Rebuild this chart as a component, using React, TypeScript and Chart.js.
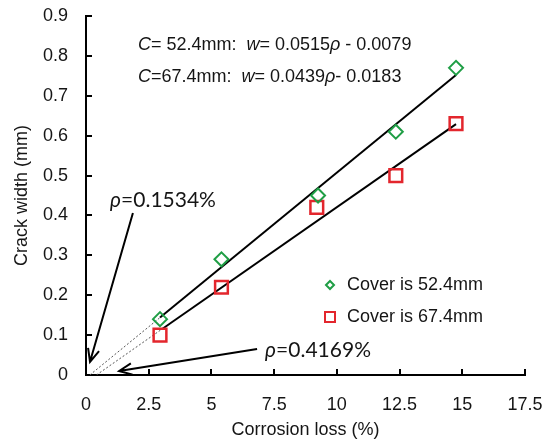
import React, { useEffect, useRef } from 'react';
import { Chart, registerables } from 'chart.js';
Chart.register(...registerables);

// Measured data (corrosion loss %, crack width mm)
const lossA = [2.95, 5.4, 9.25, 12.35, 14.75];
const widthA = [0.14, 0.29, 0.45, 0.61, 0.77];
const lossB = [2.95, 5.4, 9.2, 12.35, 14.75];
const widthB = [0.1, 0.22, 0.42, 0.5, 0.63];

// Fitted lines (solid) and extrapolations to zero (dotted)
const fitAX = [2.95, 14.75];
const fitAY = [0.144, 0.752];
const fitBX = [3.05, 14.75];
const fitBY = [0.116, 0.629];
const extAX = [0.1534, 2.95];
const extAY = [0, 0.144];
const extBX = [0.4169, 3.05];
const extBY = [0, 0.116];

const seriesLabels = ['Cover is 52.4mm', 'Cover is 67.4mm'];
const xTickLabels = ['0', '2.5', '5', '7.5', '10', '12.5', '15', '17.5'];
const yTickLabels = ['0', '0.1', '0.2', '0.3', '0.4', '0.5', '0.6', '0.7', '0.8', '0.9'];

const GREEN = '#1f9e45';
const RED = '#e3262d';
const FONT = '"Liberation Sans", Arial, sans-serif';
const NOTE_FONT = 'Lato, "Open Sans", sans-serif';
const TEXT = '#151515';

const pts = (xs: number[], ys: number[]) => xs.map((x, i) => ({ x, y: ys[i] }));

const decor = {
  id: 'decor',
  afterDraw(chart: any) {
    const ctx = chart.ctx;
    const xs = chart.scales.x;
    const ys = chart.scales.y;
    const px = (v: number) => xs.getPixelForValue(v);
    const py = (v: number) => ys.getPixelForValue(v);
    const area = chart.chartArea;
    ctx.save();
    // inward ticks
    ctx.strokeStyle = '#000';
    ctx.lineWidth = 2;
    ctx.beginPath();
    xs.ticks.forEach((t: any) => {
      if (t.value === 0) return;
      const x = Math.round(px(t.value));
      ctx.moveTo(x, area.bottom);
      ctx.lineTo(x, area.bottom - 6);
    });
    ys.ticks.forEach((t: any) => {
      if (t.value === 0) return;
      const y = Math.round(py(t.value));
      ctx.moveTo(area.left, y);
      ctx.lineTo(area.left + 6, y);
    });
    ctx.stroke();

    // arrows
    const arrow = (x0: number, y0: number, x1: number, y1: number) => {
      const ax = px(x0), ay = py(y0), bx = px(x1), by = py(y1);
      const ang = Math.atan2(by - ay, bx - ax);
      const L = 14, spread = 0.42;
      ctx.lineWidth = 2;
      ctx.beginPath();
      ctx.moveTo(ax, ay);
      ctx.lineTo(bx, by);
      ctx.moveTo(bx - L * Math.cos(ang - spread), by - L * Math.sin(ang - spread));
      ctx.lineTo(bx, by);
      ctx.lineTo(bx - L * Math.cos(ang + spread), by - L * Math.sin(ang + spread));
      ctx.stroke();
    };
    arrow(1.87, 0.406, 0.16, 0.033);
    arrow(6.82, 0.065, 1.32, 0.01);

    // rich text helper
    const rich = (x: number, y: number, parts: [string, boolean][], size: number, family: string) => {
      let cx = px(x);
      const cy = py(y);
      ctx.textBaseline = 'middle';
      ctx.textAlign = 'left';
      ctx.fillStyle = TEXT;
      parts.forEach(([s, it]) => {
        ctx.font = `${it ? 'italic ' : ''}${size}px ${family}`;
        ctx.fillText(s, cx, cy);
        cx += ctx.measureText(s).width;
      });
    };
    rich(2.07, 0.827, [['C', true], ['= 52.4mm:  ', false], ['w', true], ['= 0.0515', false], ['ρ', true], [' - 0.0079', false]], 18, FONT);
    rich(2.07, 0.747, [['C', true], ['=67.4mm:  ', false], ['w', true], ['= 0.0439', false], ['ρ', true], ['- 0.0183', false]], 18, FONT);
    rich(0.96, 0.439, [['ρ', true], ['=0.1534%', false]], 21, NOTE_FONT);
    rich(7.14, 0.063, [['ρ', true], ['=0.4169%', false]], 21, NOTE_FONT);

    // legend
    const lx = 330, ly1 = 285, ly2 = 317;
    ctx.lineWidth = 2;
    ctx.strokeStyle = GREEN;
    ctx.beginPath();
    ctx.moveTo(lx - 4, ly1);
    ctx.lineTo(lx, ly1 - 4);
    ctx.lineTo(lx + 4, ly1);
    ctx.lineTo(lx, ly1 + 4);
    ctx.closePath();
    ctx.stroke();
    ctx.strokeStyle = RED;
    ctx.strokeRect(lx - 5, ly2 - 5, 10, 10);
    ctx.fillStyle = TEXT;
    ctx.font = `18px ${FONT}`;
    ctx.textBaseline = 'middle';
    ctx.textAlign = 'left';
    ctx.fillText(chart.data.datasets[0].label, lx + 17, ly1);
    ctx.fillText(chart.data.datasets[1].label, lx + 17, ly2);
    ctx.restore();
  },
};

export default function App() {
  const ref = useRef<HTMLCanvasElement>(null);
  useEffect(() => {
    document.body.style.margin = '0';
    const chart = new Chart(ref.current!, {
      type: 'scatter',
      data: {
        datasets: [
          {
            label: seriesLabels[0],
            data: pts(lossA, widthA),
            pointStyle: 'rectRot',
            pointRadius: 7,
            pointBorderWidth: 2,
            pointBorderColor: GREEN,
            pointBackgroundColor: 'rgba(255,255,255,0)',
            borderColor: GREEN,
            order: 0,
          },
          {
            label: seriesLabels[1],
            data: pts(lossB, widthB),
            pointStyle: 'rect',
            pointRadius: 9,
            pointBorderWidth: 2.5,
            pointBorderColor: RED,
            pointBackgroundColor: 'rgba(255,255,255,0)',
            borderColor: RED,
            order: 0,
          },
          {
            label: 'fitA',
            data: pts(fitAX, fitAY),
            showLine: true,
            pointRadius: 0,
            borderColor: '#000',
            borderWidth: 2,
            order: 1,
          },
          {
            label: 'fitB',
            data: pts(fitBX, fitBY),
            showLine: true,
            pointRadius: 0,
            borderColor: '#000',
            borderWidth: 2,
            order: 1,
          },
          {
            label: 'extA',
            data: pts(extAX, extAY),
            showLine: true,
            pointRadius: 0,
            borderColor: '#555',
            borderWidth: 1,
            borderDash: [2, 2],
            order: 1,
          },
          {
            label: 'extB',
            data: pts(extBX, extBY),
            showLine: true,
            pointRadius: 0,
            borderColor: '#555',
            borderWidth: 1,
            borderDash: [2, 2],
            order: 1,
          },
        ],
      },
      options: {
        responsive: false,
        animation: false,
        layout: { padding: { top: 16, right: 19, left: 0, bottom: 0 } },
        plugins: { legend: { display: false }, tooltip: { enabled: false } },
        scales: {
          x: {
            type: 'linear',
            min: 0,
            max: 17.5,
            afterFit: (s: any) => { s.height = 64; s.paddingRight = 0; s.paddingLeft = 0; },
            grid: { display: false, drawTicks: false },
            border: { display: true, color: '#000', width: 2 },
            ticks: {
              stepSize: 2.5,
              padding: 19,
              color: TEXT,
              font: { size: 18, family: FONT },
              callback: (_v: any, i: number) => xTickLabels[i],
            },
            title: {
              display: true,
              text: 'Corrosion loss (%)',
              color: TEXT,
              font: { size: 18, family: FONT },
              padding: { top: 0, bottom: -2 },
            },
          },
          y: {
            type: 'linear',
            min: 0,
            max: 0.9,
            afterFit: (s: any) => { s.width = 86; s.paddingTop = 0; s.paddingBottom = 0; },
            grid: { display: false, drawTicks: false },
            border: { display: true, color: '#000', width: 2 },
            ticks: {
              stepSize: 0.1,
              padding: 18,
              color: TEXT,
              font: { size: 18, family: FONT },
              callback: (_v: any, i: number) => yTickLabels[i],
            },
            title: {
              display: true,
              text: 'Crack width (mm)',
              color: TEXT,
              font: { size: 18, family: FONT },
              padding: { top: 11, bottom: 0 },
            },
          },
        },
      },
      plugins: [decor],
    });
    return () => chart.destroy();
  }, []);
  return <canvas ref={ref} width={544} height={439} style={{ display: 'block' }} />;
}
